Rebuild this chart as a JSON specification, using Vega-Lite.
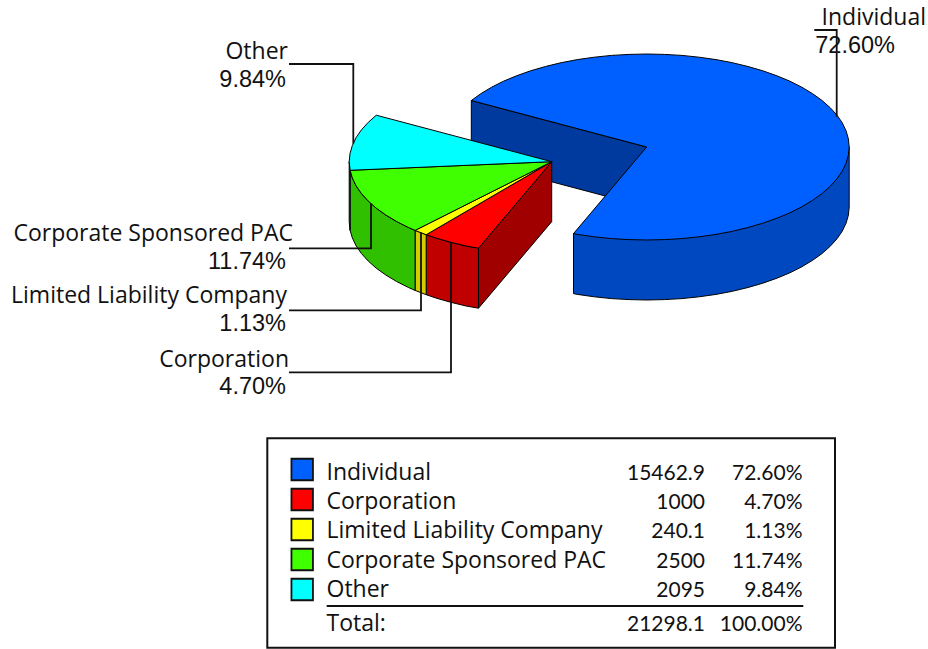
{
"$schema":"https://vega.github.io/schema/vega-lite/v6.json",
"width":928,"height":649,"padding":0,"autosize":"none","background":"white",
"config":{"view":{"stroke":null}},
"datasets":{
"faces":[
{"f":"Individual cut wall","i":1,"x":471.3,"y":100.5},{"f":"Individual cut wall","i":2,"x":646.7,"y":147},{"f":"Individual cut wall","i":3,"x":646.7,"y":207},{"f":"Individual cut wall","i":4,"x":471.3,"y":160.5},
{"f":"Individual side","i":1,"x":849.2,"y":147},{"f":"Individual side","i":2,"x":849.2,"y":207},{"f":"Individual side","i":3,"x":848.4,"y":215.1},{"f":"Individual side","i":4,"x":846.1,"y":223.1},{"f":"Individual side","i":5,"x":842.3,"y":231.1},{"f":"Individual side","i":6,"x":837,"y":238.8},{"f":"Individual side","i":7,"x":830.2,"y":246.3},{"f":"Individual side","i":8,"x":822.1,"y":253.5},{"f":"Individual side","i":9,"x":812.6,"y":260.3},{"f":"Individual side","i":10,"x":801.8,"y":266.8},{"f":"Individual side","i":11,"x":789.9,"y":272.8},{"f":"Individual side","i":12,"x":776.9,"y":278.2},{"f":"Individual side","i":13,"x":762.8,"y":283.2},{"f":"Individual side","i":14,"x":748,"y":287.5},{"f":"Individual side","i":15,"x":732.3,"y":291.3},{"f":"Individual side","i":16,"x":716,"y":294.4},{"f":"Individual side","i":17,"x":699.1,"y":296.8},{"f":"Individual side","i":18,"x":681.9,"y":298.6},{"f":"Individual side","i":19,"x":664.3,"y":299.6},{"f":"Individual side","i":20,"x":646.7,"y":300},{"f":"Individual side","i":21,"x":629.1,"y":299.6},{"f":"Individual side","i":22,"x":611.5,"y":298.6},{"f":"Individual side","i":23,"x":594.3,"y":296.8},{"f":"Individual side","i":24,"x":577.4,"y":294.4},{"f":"Individual side","i":25,"x":573.5,"y":293.6},{"f":"Individual side","i":26,"x":573.5,"y":233.6},
{"f":"Individual top","i":1,"x":646.7,"y":147},{"f":"Individual top","i":2,"x":471.3,"y":100.5},{"f":"Individual top","i":3,"x":480.8,"y":93.7},{"f":"Individual top","i":4,"x":491.6,"y":87.2},{"f":"Individual top","i":5,"x":503.5,"y":81.2},{"f":"Individual top","i":6,"x":516.5,"y":75.8},{"f":"Individual top","i":7,"x":530.6,"y":70.8},{"f":"Individual top","i":8,"x":545.4,"y":66.5},{"f":"Individual top","i":9,"x":561.1,"y":62.7},{"f":"Individual top","i":10,"x":577.4,"y":59.6},{"f":"Individual top","i":11,"x":594.3,"y":57.2},{"f":"Individual top","i":12,"x":611.5,"y":55.4},{"f":"Individual top","i":13,"x":629.1,"y":54.4},{"f":"Individual top","i":14,"x":646.7,"y":54},{"f":"Individual top","i":15,"x":664.3,"y":54.4},{"f":"Individual top","i":16,"x":681.9,"y":55.4},{"f":"Individual top","i":17,"x":699.1,"y":57.2},{"f":"Individual top","i":18,"x":716,"y":59.6},{"f":"Individual top","i":19,"x":732.3,"y":62.7},{"f":"Individual top","i":20,"x":748,"y":66.5},{"f":"Individual top","i":21,"x":762.8,"y":70.8},{"f":"Individual top","i":22,"x":776.9,"y":75.8},{"f":"Individual top","i":23,"x":789.9,"y":81.2},{"f":"Individual top","i":24,"x":801.8,"y":87.2},{"f":"Individual top","i":25,"x":812.6,"y":93.7},{"f":"Individual top","i":26,"x":822.1,"y":100.5},{"f":"Individual top","i":27,"x":830.2,"y":107.7},{"f":"Individual top","i":28,"x":837,"y":115.2},{"f":"Individual top","i":29,"x":842.3,"y":122.9},{"f":"Individual top","i":30,"x":846.1,"y":130.9},{"f":"Individual top","i":31,"x":848.4,"y":138.9},{"f":"Individual top","i":32,"x":849.2,"y":147},{"f":"Individual top","i":33,"x":848.4,"y":155.1},{"f":"Individual top","i":34,"x":846.1,"y":163.1},{"f":"Individual top","i":35,"x":842.3,"y":171.1},{"f":"Individual top","i":36,"x":837,"y":178.8},{"f":"Individual top","i":37,"x":830.2,"y":186.3},{"f":"Individual top","i":38,"x":822.1,"y":193.5},{"f":"Individual top","i":39,"x":812.6,"y":200.3},{"f":"Individual top","i":40,"x":801.8,"y":206.8},{"f":"Individual top","i":41,"x":789.9,"y":212.8},{"f":"Individual top","i":42,"x":776.9,"y":218.2},{"f":"Individual top","i":43,"x":762.8,"y":223.2},{"f":"Individual top","i":44,"x":748,"y":227.5},{"f":"Individual top","i":45,"x":732.3,"y":231.3},{"f":"Individual top","i":46,"x":716,"y":234.4},{"f":"Individual top","i":47,"x":699.1,"y":236.8},{"f":"Individual top","i":48,"x":681.9,"y":238.6},{"f":"Individual top","i":49,"x":664.3,"y":239.6},{"f":"Individual top","i":50,"x":646.7,"y":240},{"f":"Individual top","i":51,"x":629.1,"y":239.6},{"f":"Individual top","i":52,"x":611.5,"y":238.6},{"f":"Individual top","i":53,"x":594.3,"y":236.8},{"f":"Individual top","i":54,"x":577.4,"y":234.4},{"f":"Individual top","i":55,"x":573.5,"y":233.6},
{"f":"Corporation cut wall","i":1,"x":551.7,"y":161.7},{"f":"Corporation cut wall","i":2,"x":478.5,"y":248.2},{"f":"Corporation cut wall","i":3,"x":478.5,"y":308.2},{"f":"Corporation cut wall","i":4,"x":551.7,"y":221.7},
{"f":"Corporation side","i":1,"x":478.5,"y":248.2},{"f":"Corporation side","i":2,"x":466.1,"y":246},{"f":"Corporation side","i":3,"x":450.4,"y":242.2},{"f":"Corporation side","i":4,"x":435.6,"y":237.9},{"f":"Corporation side","i":5,"x":426.2,"y":234.7},{"f":"Corporation side","i":6,"x":426.2,"y":294.7},{"f":"Corporation side","i":7,"x":435.6,"y":297.9},{"f":"Corporation side","i":8,"x":450.4,"y":302.2},{"f":"Corporation side","i":9,"x":466.1,"y":306},{"f":"Corporation side","i":10,"x":478.5,"y":308.2},
{"f":"LLC side","i":1,"x":426.2,"y":234.7},{"f":"LLC side","i":2,"x":421.5,"y":232.9},{"f":"LLC side","i":3,"x":415.1,"y":230.4},{"f":"LLC side","i":4,"x":415.1,"y":290.4},{"f":"LLC side","i":5,"x":421.5,"y":292.9},{"f":"LLC side","i":6,"x":426.2,"y":294.7},
{"f":"PAC side","i":1,"x":415.1,"y":230.4},{"f":"PAC side","i":2,"x":408.5,"y":227.5},{"f":"PAC side","i":3,"x":396.6,"y":221.5},{"f":"PAC side","i":4,"x":385.8,"y":215},{"f":"PAC side","i":5,"x":376.3,"y":208.2},{"f":"PAC side","i":6,"x":368.2,"y":201},{"f":"PAC side","i":7,"x":361.4,"y":193.5},{"f":"PAC side","i":8,"x":356.1,"y":185.8},{"f":"PAC side","i":9,"x":352.3,"y":177.8},{"f":"PAC side","i":10,"x":350.1,"y":170.3},{"f":"PAC side","i":11,"x":350.1,"y":230.3},{"f":"PAC side","i":12,"x":352.3,"y":237.8},{"f":"PAC side","i":13,"x":356.1,"y":245.8},{"f":"PAC side","i":14,"x":361.4,"y":253.5},{"f":"PAC side","i":15,"x":368.2,"y":261},{"f":"PAC side","i":16,"x":376.3,"y":268.2},{"f":"PAC side","i":17,"x":385.8,"y":275},{"f":"PAC side","i":18,"x":396.6,"y":281.5},{"f":"PAC side","i":19,"x":408.5,"y":287.5},{"f":"PAC side","i":20,"x":415.1,"y":290.4},
{"f":"Other side","i":1,"x":350.1,"y":170.3},{"f":"Other side","i":2,"x":349.2,"y":161.7},{"f":"Other side","i":3,"x":349.2,"y":221.7},{"f":"Other side","i":4,"x":350.1,"y":230.3},
{"f":"Corporation top","i":1,"x":551.7,"y":161.7},{"f":"Corporation top","i":2,"x":478.5,"y":248.2},{"f":"Corporation top","i":3,"x":466.1,"y":246},{"f":"Corporation top","i":4,"x":450.4,"y":242.2},{"f":"Corporation top","i":5,"x":435.6,"y":237.9},{"f":"Corporation top","i":6,"x":426.2,"y":234.7},
{"f":"LLC top","i":1,"x":551.7,"y":161.7},{"f":"LLC top","i":2,"x":426.2,"y":234.7},{"f":"LLC top","i":3,"x":421.5,"y":232.9},{"f":"LLC top","i":4,"x":415.1,"y":230.4},
{"f":"PAC top","i":1,"x":551.7,"y":161.7},{"f":"PAC top","i":2,"x":415.1,"y":230.4},{"f":"PAC top","i":3,"x":408.5,"y":227.5},{"f":"PAC top","i":4,"x":396.6,"y":221.5},{"f":"PAC top","i":5,"x":385.8,"y":215},{"f":"PAC top","i":6,"x":376.3,"y":208.2},{"f":"PAC top","i":7,"x":368.2,"y":201},{"f":"PAC top","i":8,"x":361.4,"y":193.5},{"f":"PAC top","i":9,"x":356.1,"y":185.8},{"f":"PAC top","i":10,"x":352.3,"y":177.8},{"f":"PAC top","i":11,"x":350.1,"y":170.3},
{"f":"Other top","i":1,"x":551.7,"y":161.7},{"f":"Other top","i":2,"x":350.1,"y":170.3},{"f":"Other top","i":3,"x":349.2,"y":161.7},{"f":"Other top","i":4,"x":350,"y":153.6},{"f":"Other top","i":5,"x":352.3,"y":145.6},{"f":"Other top","i":6,"x":356.1,"y":137.6},{"f":"Other top","i":7,"x":361.4,"y":129.9},{"f":"Other top","i":8,"x":368.2,"y":122.4},{"f":"Other top","i":9,"x":376.3,"y":115.2}
],
"leaders":[
{"c":"Individual","i":1,"x":814.3,"y":30},{"c":"Individual","i":2,"x":836.7,"y":30},{"c":"Individual","i":3,"x":836.7,"y":116.7},
{"c":"Other","i":1,"x":289,"y":64},{"c":"Other","i":2,"x":353.3,"y":64},{"c":"Other","i":3,"x":353.3,"y":143.7},
{"c":"Corporate Sponsored PAC","i":1,"x":289,"y":248.3},{"c":"Corporate Sponsored PAC","i":2,"x":371,"y":248.3},{"c":"Corporate Sponsored PAC","i":3,"x":371,"y":203.7},
{"c":"Limited Liability Company","i":1,"x":289,"y":310.3},{"c":"Limited Liability Company","i":2,"x":421,"y":310.3},{"c":"Limited Liability Company","i":3,"x":421,"y":232.5},
{"c":"Corporation","i":1,"x":289,"y":372.3},{"c":"Corporation","i":2,"x":451,"y":372.3},{"c":"Corporation","i":3,"x":451,"y":241.7}
],
"labels":[
{"category":"Individual","share":"72.60%","nameX":926,"nameY":25,"shareX":895,"shareY":52.7},
{"category":"Other","share":"9.84%","nameX":288,"nameY":59.3,"shareX":286,"shareY":87.3},
{"category":"Corporate Sponsored PAC","share":"11.74%","nameX":293,"nameY":241,"shareX":286,"shareY":269},
{"category":"Limited Liability Company","share":"1.13%","nameX":287,"nameY":303.3,"shareX":286,"shareY":331},
{"category":"Corporation","share":"4.70%","nameX":289,"nameY":367.3,"shareX":286,"shareY":394.3}
],
"table":[
{"category":"Individual","value":"15462.9","share":"72.60%","row":1},
{"category":"Corporation","value":"1000","share":"4.70%","row":2},
{"category":"Limited Liability Company","value":"240.1","share":"1.13%","row":3},
{"category":"Corporate Sponsored PAC","value":"2500","share":"11.74%","row":4},
{"category":"Other","value":"2095","share":"9.84%","row":5},
{"category":"Total:","value":"21298.1","share":"100.00%","row":6.16}
],
"frame":[{"left":267.3,"right":835,"top":438.3,"bottom":647.7}],
"totalRule":[{"from":326.7,"to":803.3,"at":606}]
},
"layer":[
{"data":{"name":"faces"},
 "mark":{"type":"line","interpolate":"linear-closed","stroke":"#000000","strokeWidth":1,"strokeJoin":"round"},
 "encoding":{
  "x":{"field":"x","type":"quantitative","axis":null,"scale":{"domain":[0,928],"range":[0,928],"nice":false,"zero":false}},
  "y":{"field":"y","type":"quantitative","axis":null,"scale":{"domain":[0,649],"range":[0,649],"nice":false,"zero":false}},
  "detail":{"field":"f"},
  "order":{"field":"i","type":"quantitative"},
  "fill":{"field":"f","type":"nominal","legend":null,"scale":{
   "domain":["Individual cut wall","Individual side","Individual top","Corporation cut wall","Corporation side","LLC side","PAC side","Other side","Corporation top","LLC top","PAC top","Other top"],
   "range":["#003A9E","#0048C0","#0060FF","#A00000","#C00000","#D4CC00","#30C000","#00C0C0","#FF0000","#FFFF00","#40FF00","#00FFFF"]}}
 }},
{"data":{"name":"leaders"},
 "mark":{"type":"line","stroke":"#111111","strokeWidth":1.8,"interpolate":"linear"},
 "encoding":{
  "x":{"field":"x","type":"quantitative","axis":null,"scale":{"domain":[0,928],"range":[0,928],"nice":false,"zero":false}},
  "y":{"field":"y","type":"quantitative","axis":null,"scale":{"domain":[0,649],"range":[0,649],"nice":false,"zero":false}},
  "detail":{"field":"c"},
  "order":{"field":"i","type":"quantitative"}
 }},
{"data":{"name":"labels"},
 "mark":{"type":"text","align":"right","baseline":"alphabetic","font":"Open Sans","fontSize":23,"color":"#111111"},
 "encoding":{
  "x":{"field":"nameX","type":"quantitative","axis":null,"scale":{"domain":[0,928],"range":[0,928],"nice":false,"zero":false}},
  "y":{"field":"nameY","type":"quantitative","axis":null,"scale":{"domain":[0,649],"range":[0,649],"nice":false,"zero":false}},
  "text":{"field":"category"}
 }},
{"data":{"name":"labels"},
 "mark":{"type":"text","align":"right","baseline":"alphabetic","font":"Liberation Sans","fontSize":23.5,"color":"#111111"},
 "encoding":{
  "x":{"field":"shareX","type":"quantitative","axis":null,"scale":{"domain":[0,928],"range":[0,928],"nice":false,"zero":false}},
  "y":{"field":"shareY","type":"quantitative","axis":null,"scale":{"domain":[0,649],"range":[0,649],"nice":false,"zero":false}},
  "text":{"field":"share"}
 }},
{"data":{"name":"frame"},
 "mark":{"type":"rect","fill":"white","stroke":"#111111","strokeWidth":2},
 "encoding":{
  "x":{"field":"left","type":"quantitative","axis":null,"scale":{"domain":[0,928],"range":[0,928],"nice":false,"zero":false}},
  "x2":{"field":"right"},
  "y":{"field":"top","type":"quantitative","axis":null,"scale":{"domain":[0,649],"range":[0,649],"nice":false,"zero":false}},
  "y2":{"field":"bottom"}
 }},
{"data":{"name":"totalRule"},
 "mark":{"type":"rule","stroke":"#111111","strokeWidth":1.8},
 "encoding":{
  "x":{"field":"from","type":"quantitative","axis":null,"scale":{"domain":[0,928],"range":[0,928],"nice":false,"zero":false}},
  "x2":{"field":"to"},
  "y":{"field":"at","type":"quantitative","axis":null,"scale":{"domain":[0,649],"range":[0,649],"nice":false,"zero":false}}
 }},
{"data":{"name":"table"},
 "transform":[{"filter":"datum.row <= 5"}],
 "mark":{"type":"square","size":462,"stroke":"#111111","strokeWidth":1.8,"opacity":1,"filled":true},
 "encoding":{
  "x":{"datum":302.2,"type":"quantitative","axis":null,"scale":{"domain":[0,928],"range":[0,928],"nice":false,"zero":false}},
  "y":{"field":"row","type":"quantitative","axis":null,"scale":{"domain":[1,5],"range":[469.5,589.5],"nice":false,"zero":false}},
  "fill":{"field":"category","type":"nominal","legend":null,"scale":{
   "domain":["Individual","Corporation","Limited Liability Company","Corporate Sponsored PAC","Other"],
   "range":["#0060FF","#FF0000","#FFFF00","#40FF00","#00FFFF"]}}
 }},
{"data":{"name":"table"},
 "mark":{"type":"text","align":"left","baseline":"alphabetic","font":"Open Sans","fontSize":23,"color":"#111111"},
 "encoding":{
  "x":{"datum":326.5,"type":"quantitative","axis":null,"scale":{"domain":[0,928],"range":[0,928],"nice":false,"zero":false}},
  "y":{"field":"row","type":"quantitative","axis":null,"scale":{"domain":[1,6.16],"range":[479.5,631],"nice":false,"zero":false}},
  "text":{"field":"category"}
 }},
{"data":{"name":"table"},
 "mark":{"type":"text","align":"right","baseline":"alphabetic","font":"Lato","fontSize":21,"color":"#111111"},
 "encoding":{
  "x":{"datum":705,"type":"quantitative","axis":null,"scale":{"domain":[0,928],"range":[0,928],"nice":false,"zero":false}},
  "y":{"field":"row","type":"quantitative","axis":null,"scale":{"domain":[1,6.16],"range":[479.5,631],"nice":false,"zero":false}},
  "text":{"field":"value"}
 }},
{"data":{"name":"table"},
 "mark":{"type":"text","align":"right","baseline":"alphabetic","font":"Lato","fontSize":21,"color":"#111111"},
 "encoding":{
  "x":{"datum":802.5,"type":"quantitative","axis":null,"scale":{"domain":[0,928],"range":[0,928],"nice":false,"zero":false}},
  "y":{"field":"row","type":"quantitative","axis":null,"scale":{"domain":[1,6.16],"range":[479.5,631],"nice":false,"zero":false}},
  "text":{"field":"share"}
 }}
],
"resolve":{"scale":{"y":"independent","fill":"independent"}}
}
